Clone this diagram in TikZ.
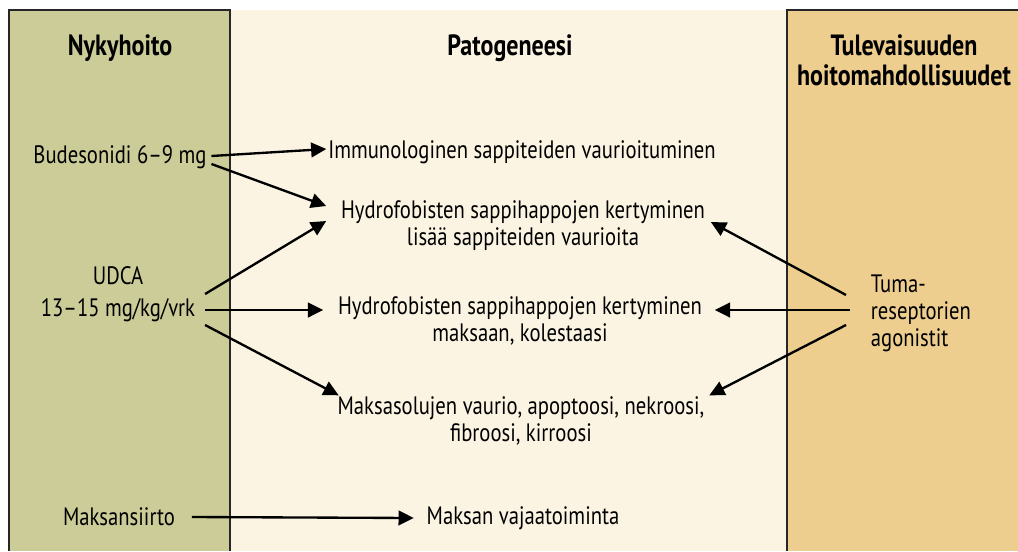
\documentclass[tikz,border=0pt]{standalone}
\usepackage{fontspec}
\setmainfont{PT Sans}[FakeStretch=0.82]
\usetikzlibrary{arrows.meta}
\definecolor{nowcol}{RGB}{203,204,151}
\definecolor{patocol}{RGB}{251,244,227}
\definecolor{futurecol}{RGB}{237,206,143}
\begin{document}
\begin{tikzpicture}[x=0.03cm, y=-0.03cm,
    colbox/.style={draw=black!85, line width=1.6pt},
    txt/.style={font=\fontsize{21.5}{23}\selectfont, align=center, inner xsep=4pt, inner ysep=1pt},
    headtxt/.style={txt, font=\fontsize{25}{25.5}\selectfont\bfseries},
    myarrow/.style={-{Triangle[length=13pt,width=12.5pt]}, line width=2pt},
]
\useasboundingbox (0,0) rectangle (1018,551);
\fill[white] (0,0) rectangle (1018,551);

% columns
\fill[patocol] (230,10) rectangle (787,551);
\fill[nowcol] (9,10) rectangle (230,551);
\fill[futurecol] (787,10) rectangle (1018,551);
\draw[colbox] (9,551) |- (230,10) -- (230,551);
\draw[colbox] (787,551) |- (1018,10);

% headings
\node[headtxt] (nowhead) at (120,48) {Nykyhoito};
\node[headtxt] (patohead) at (510,48) {Patogeneesi};
\node[headtxt] (futurehead) at (904,60) {Tulevaisuuden\\hoitomahdollisuudet};

% current treatments
\node[txt] (bud) at (120,157) {Budesonidi 6–9 mg};
\node[txt] (udca) at (118,294) {UDCA\\[4pt]13–15 mg/kg/vrk};
\node[txt] (siirto) at (119,517) {Maksansiirto};

% pathogenesis
\node[txt] (immu) at (522,152) {Immunologinen sappiteiden vaurioituminen};
\node[txt] (hydroA) at (523,226) {Hydrofobisten sappihappojen kertyminen\\lisää sappiteiden vaurioita};
\node[txt] (hydroB) at (520,321) {Hydrofobisten sappihappojen kertyminen\\maksaan, kolestaasi};
\node[txt] (solu) at (521,421) {Maksasolujen vaurio, apoptoosi, nekroosi,\\fibroosi, kirroosi};
\node[txt] (vaja) at (523,518) {Maksan vajaatoiminta};

% future
\node[txt, align=left, anchor=west] (tuma) at (866,313) {Tuma-\\reseptorien\\agonistit};

% arrows
\draw[myarrow] ([shift={(0,-1)}]bud.east) -- ([shift={(3,-3)}]immu.west);
\draw[myarrow] ([shift={(0,7)}]bud.east) -- ([shift={(-10,-20)}]hydroA.west);
\draw[myarrow] ([shift={(5,0)}]udca.east) -- ([shift={(-10,-5)}]hydroA.west);
\draw[myarrow] ([shift={(5,16)}]udca.east) -- ([shift={(-10,-11)}]hydroB.west);
\draw[myarrow] ([shift={(5,31)}]udca.east) -- ([shift={(6,0)}]solu.north west);
\draw[myarrow] ([shift={(12,0)}]siirto.east) -- ([shift={(-8,0)}]vaja.west);

\draw[myarrow] ([shift={(-20,-18)}]tuma.west) -- ([shift={(1,-4)}]hydroA.east);
\draw[myarrow] ([shift={(-16,-3)}]tuma.west) -- ([shift={(8,-11)}]hydroB.east);
\draw[myarrow] ([shift={(-20,12)}]tuma.west) -- ([shift={(0,0)}]solu.north east);
\end{tikzpicture}
\end{document}
